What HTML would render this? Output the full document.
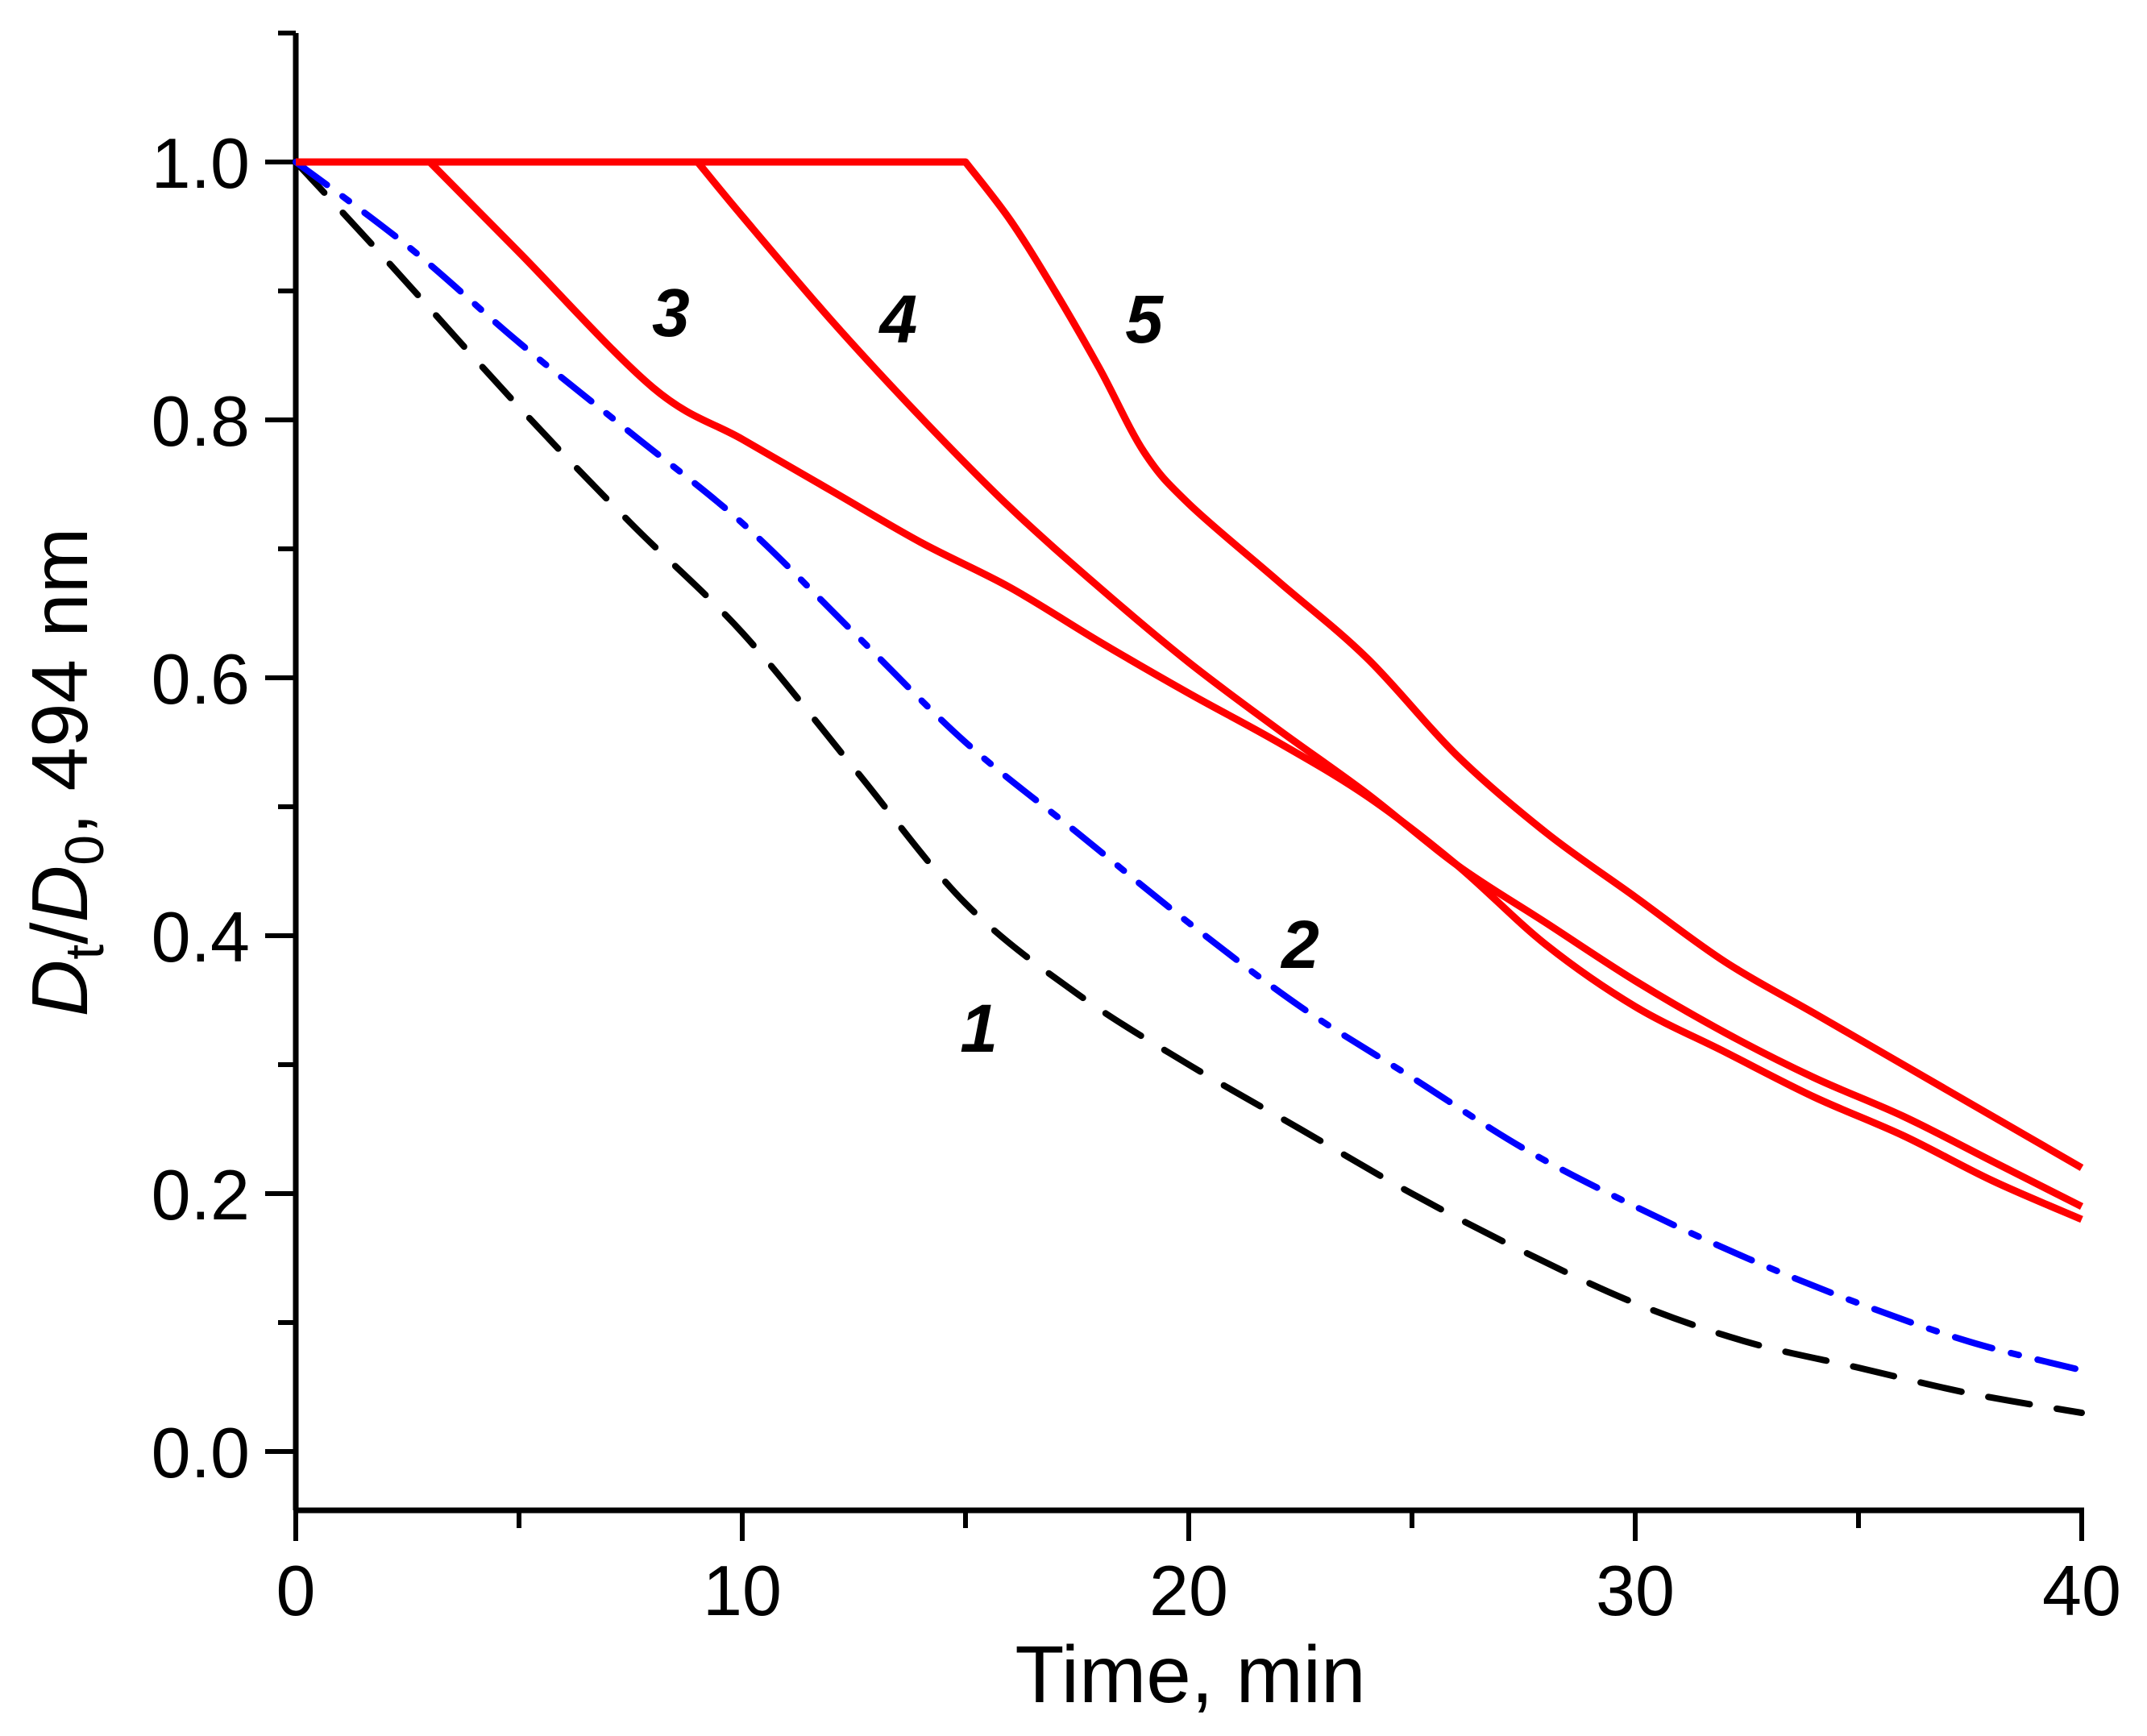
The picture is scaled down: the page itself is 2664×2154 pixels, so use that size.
<!DOCTYPE html>
<html><head><meta charset="utf-8"><style>
html,body{margin:0;padding:0;background:#fff;}
svg{display:block;font-family:"Liberation Sans",sans-serif;}
</style></head><body>
<svg id="chart" width="2664" height="2154" viewBox="0 0 2664 2154">
<g id="axes"></g>
<g id="series"></g>
<g id="labels"></g>
<text x="1477" y="2112" font-size="100" text-anchor="middle">Time, min</text>
<text transform="translate(108,958) rotate(-90)" font-size="98" text-anchor="middle"><tspan font-style="italic">D</tspan><tspan font-size="68" dy="20">t</tspan><tspan dy="-20">/</tspan><tspan font-style="italic">D</tspan><tspan font-size="68" dy="20">0</tspan><tspan dy="-20">,  494 nm</tspan></text>
</svg>
<script>
const xTicks=[0,10,20,30,40];
const xMinor=[5,15,25,35];
const yTicks=[0.0,0.2,0.4,0.6,0.8,1.0];
const yTickLabels=["0.0","0.2","0.4","0.6","0.8","1.0"];
const yMinor=[0.1,0.3,0.5,0.7,0.9,1.1];
const t1=[0,2,5,7.5,10,12.5,15,17.5,20,22.5,25,27.5,30,32.5,35,37.5,40];
const y1=[1,0.925,0.81,0.72,0.635,0.53,0.425,0.355,0.30,0.25,0.20,0.155,0.115,0.085,0.065,0.045,0.03];
const t2=[0,2.5,5,7.5,10,12.5,15,17.5,20,22.5,25,27.5,30,32.5,35,37.5,40];
const y2=[1,0.935,0.86,0.79,0.72,0.635,0.55,0.48,0.41,0.345,0.29,0.235,0.19,0.15,0.115,0.085,0.063];
const t3=[0,3,5,8,10,12,14,16,18,20,22,24,26,28,30,32,34,36,38,40];
const y3=[1,1,0.93,0.825,0.785,0.745,0.705,0.67,0.628,0.588,0.55,0.508,0.455,0.393,0.345,0.31,0.275,0.245,0.21,0.18];
const t4=[0,9,10,12,14,16,18,20,22,24,26,28,30,32,34,36,38,40];
const y4=[1,1,0.958,0.877,0.802,0.732,0.67,0.612,0.56,0.51,0.455,0.41,0.365,0.325,0.29,0.26,0.225,0.19];
const t5=[0,15,16,17,18,19,20,22,24,26,28,30,32,34,36,38,40];
const y5=[1,1,0.955,0.9,0.84,0.775,0.735,0.675,0.615,0.54,0.48,0.43,0.38,0.34,0.30,0.26,0.22];
const curveNames=["1","2","3","4","5"];
const labelT=[15.3,22.5,8.4,13.5,19];
const labelY=[0.31,0.375,0.865,0.86,0.86];

const NS="http://www.w3.org/2000/svg";
const X0=367,XS=55.4,Y0=1801,YS=1600;
const sx=t=>X0+t*XS, sy=v=>Y0-v*YS;
function mk(tag,parent,attrs){const e=document.createElementNS(NS,tag);for(const k in attrs)e.setAttribute(k,attrs[k]);parent.appendChild(e);return e;}
const ax=document.getElementById('axes');
const axTop=sy(1.1),axBot=1874,axRight=sx(40);
let l=mk('line',ax,{x1:X0,y1:axTop,x2:X0,y2:axBot,stroke:'#000','stroke-width':7});


l=mk('line',ax,{x1:X0-3,y1:axBot,x2:axRight+3,y2:axBot,stroke:'#000','stroke-width':7});


xTicks.forEach(t=>{
 const e=mk('line',ax,{x1:sx(t),y1:axBot,x2:sx(t),y2:axBot+38,stroke:'#000','stroke-width':6});
 
 
 const tx=mk('text',ax,{x:sx(t),y:2004,'font-size':88,'text-anchor':'middle'});tx.textContent=t;
 
 
});
xMinor.forEach(t=>{
 const e=mk('line',ax,{x1:sx(t),y1:axBot,x2:sx(t),y2:axBot+22,stroke:'#000','stroke-width':6});
 
 
});
yTicks.forEach((v,i)=>{
 const e=mk('line',ax,{x1:X0-38,y1:sy(v),x2:X0,y2:sy(v),stroke:'#000','stroke-width':6});
 
 
 const tx=mk('text',ax,{x:310,y:sy(v)+32,'font-size':88,'text-anchor':'end'});tx.textContent=yTickLabels[i];
 
 
});
yMinor.forEach(v=>{
 const e=mk('line',ax,{x1:X0-22,y1:sy(v),x2:X0,y2:sy(v),stroke:'#000','stroke-width':6});
 
 
});
const sg=document.getElementById('series');
function pathFor(ts,ys){
 const P=ts.map((t,i)=>[sx(t),sy(ys[i])]);
 let d='M'+P[0][0].toFixed(1)+','+P[0][1].toFixed(1);
 for(let i=0;i<P.length-1;i++){
  const p0=P[Math.max(i-1,0)],p1=P[i],p2=P[i+1],p3=P[Math.min(i+2,P.length-1)];
  if(ys[i]===ys[i+1]){d+=' L'+p2[0].toFixed(1)+','+p2[1].toFixed(1);continue;}
  const a=(i>0&&ys[i-1]===ys[i])?p1:p0;
  const c1=[p1[0]+(p2[0]-a[0])/6,p1[1]+(p2[1]-a[1])/6];
  const c2=[p2[0]-(p3[0]-p1[0])/6,p2[1]-(p3[1]-p1[1])/6];
  d+=' C'+c1[0].toFixed(1)+','+c1[1].toFixed(1)+' '+c2[0].toFixed(1)+','+c2[1].toFixed(1)+' '+p2[0].toFixed(1)+','+p2[1].toFixed(1);
 }
 return d;
}
const specs=[[t1,y1,'#000','52,34','curve-1'],[t2,y2,'#0000ff','48,24,10,24','curve-2'],[t3,y3,'#ff0000','','curve-3'],[t4,y4,'#ff0000','','curve-4'],[t5,y5,'#ff0000','','curve-5']];
specs.forEach(s=>{
 const p=mk('path',sg,{d:pathFor(s[0],s[1]),fill:'none',stroke:s[2],'stroke-width':s[3]?8:9,'stroke-linejoin':'round','stroke-linecap':s[3]?'round':'butt'});
 if(s[3])p.setAttribute('stroke-dasharray',s[3]);
 
 
});
const lg=document.getElementById('labels');
curveNames.forEach((n,i)=>{
 const tx=mk('text',lg,{x:sx(labelT[i]),y:sy(labelY[i]),'font-size':84,'font-weight':'bold','font-style':'italic','text-anchor':'middle'});
 tx.textContent=n;
 
 
});
</script>
</body></html>
